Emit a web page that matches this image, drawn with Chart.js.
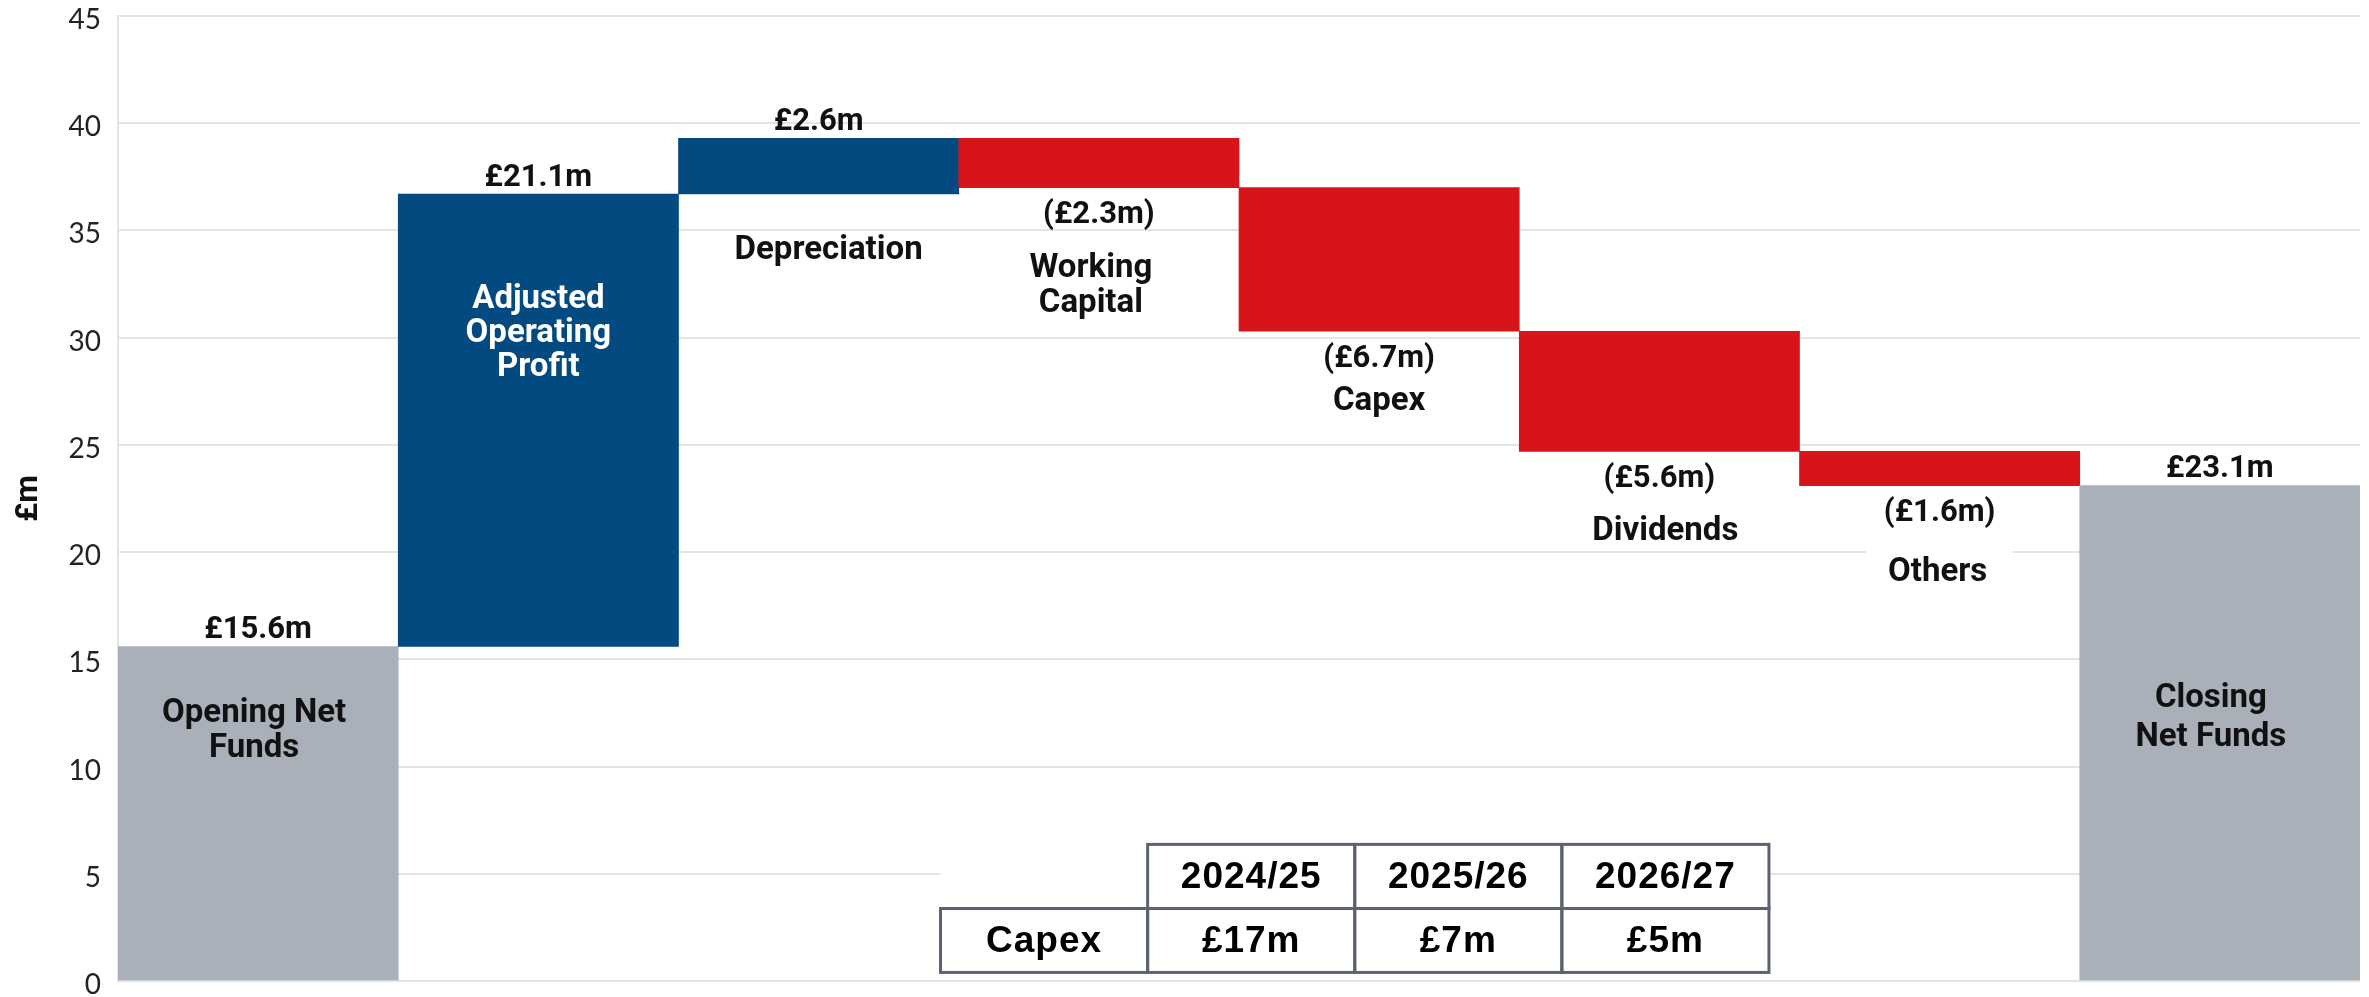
<!DOCTYPE html>
<html>
<head>
<meta charset="utf-8">
<script src="https://cdn.jsdelivr.net/npm/chart.js@4.4.1/dist/chart.umd.min.js"></script>
<style>
  html, body { margin: 0; padding: 0; background: #fff; }
  canvas { display: block; }
</style>
</head>
<body>
<canvas id="chart" width="2369" height="997"></canvas>
<script>
// waterfall data
const categories = [
  ['Opening Net', 'Funds'],
  ['Adjusted', 'Operating', 'Profit'],
  ['Depreciation'],
  ['Working', 'Capital'],
  ['Capex'],
  ['Dividends'],
  ['Others'],
  ['Closing', 'Net Funds']
];
const changes = [15.6, 21.1, 2.6, -2.3, -6.7, -5.6, -1.6, 23.1];
const kinds = ['total', 'up', 'up', 'down', 'down', 'down', 'down', 'total'];
const valueLabels = ['£15.6m', '£21.1m', '£2.6m', '(£2.3m)', '(£6.7m)', '(£5.6m)', '(£1.6m)', '£23.1m'];
const yTicks = [0, 5, 10, 15, 20, 25, 30, 35, 40, 45];

// capex table
const tableYears = ['2024/25', '2025/26', '2026/27'];
const tableRowName = 'Capex';
const tableCapex = ['£17m', '£7m', '£5m'];

const colours = { total: '#AAB0BA', up: '#024A7F', down: '#D7141A' };

// running totals -> floating bars
let running = 0;
const floats = changes.map((v, i) => {
  if (kinds[i] === 'total') { running = v; return [0, v]; }
  const start = running;
  running += v;
  return [start, running];
});

// where the category names go (offset in px from bar top / bottom)
const namePlace = [
  { at: 'top', dy: 67, dx: -4, gap: 35, color: '#111' },
  { at: 'top', dy: 106, dx: 0, gap: 34, color: '#fff' },
  { at: 'bottom', dy: 57, dx: 10, gap: 35, color: '#111' },
  { at: 'bottom', dy: 81, dx: -8, gap: 35, color: '#111' },
  { at: 'bottom', dy: 71, dx: 0, gap: 35, color: '#111' },
  { at: 'bottom', dy: 80, dx: 6, gap: 35, color: '#111' },
  { at: 'bottom', dy: 87, dx: -2, gap: 35, color: '#111', box: true },
  { at: 'top', dy: 213, dx: -9, gap: 39, color: '#111' }
];

const labelFont = 'bold 31px Roboto';
const nameFont = 'bold 33px Roboto';

const waterfallLabels = {
  id: 'waterfallLabels',
  afterDatasetsDraw(chart) {
    const ctx = chart.ctx;
    const meta = chart.getDatasetMeta(0);
    ctx.save();
    ctx.textAlign = 'center';
    ctx.textBaseline = 'middle';
    meta.data.forEach((bar, i) => {
      const top = Math.min(bar.y, bar.base);
      const bottom = Math.max(bar.y, bar.base);
      ctx.font = labelFont;
      ctx.fillStyle = '#111';
      if (kinds[i] === 'down') {
        ctx.fillText(valueLabels[i], bar.x, bottom + 28);
      } else {
        ctx.fillText(valueLabels[i], bar.x, top - 16);
      }
      const p = namePlace[i];
      const y0 = (p.at === 'top' ? top : bottom) + p.dy;
      ctx.font = nameFont;
      categories[i].forEach((line, k) => {
        const y = y0 + k * p.gap;
        if (p.box) {
          ctx.fillStyle = '#fff';
          ctx.fillRect(bar.x - 73, y - 22, 146, 44);
        }
        ctx.fillStyle = p.color;
        ctx.fillText(line, bar.x + p.dx, y);
      });
    });
    ctx.restore();
  }
};

// table placed with the chart's own scales (category index / value units)
const tableLeftIndex = 2.435;
const tableColSpan = 0.739;
const tableRowEdges = [6.37, 3.38, 0.4];

const capexTable = {
  id: 'capexTable',
  afterDraw(chart) {
    const ctx = chart.ctx;
    const xs = chart.scales.x, ys = chart.scales.y;
    const colX = [0, 1, 2, 3, 4].map(k => xs.getPixelForValue(tableLeftIndex + k * tableColSpan));
    const rowY = tableRowEdges.map(v => ys.getPixelForValue(v));
    ctx.save();
    ctx.fillStyle = '#fff';
    ctx.fillRect(colX[0], rowY[0], colX[4] - colX[0], rowY[2] - rowY[0]);
    ctx.strokeStyle = '#5C6370';
    ctx.lineWidth = 3;
    // header row cells
    for (let k = 1; k < 4; k++) {
      ctx.strokeRect(colX[k], rowY[0], colX[k + 1] - colX[k], rowY[1] - rowY[0]);
    }
    // data row cells
    for (let k = 0; k < 4; k++) {
      ctx.strokeRect(colX[k], rowY[1], colX[k + 1] - colX[k], rowY[2] - rowY[1]);
    }
    ctx.fillStyle = '#000';
    ctx.font = 'bold 37px "Liberation Sans", Arial';
    ctx.letterSpacing = '1px';
    ctx.textAlign = 'center';
    ctx.textBaseline = 'middle';
    const midH = (rowY[0] + rowY[1]) / 2 + 1;
    const midR = (rowY[1] + rowY[2]) / 2 + 1;
    tableYears.forEach((t, k) => {
      ctx.fillText(t, (colX[k + 1] + colX[k + 2]) / 2, midH);
    });
    ctx.fillText(tableRowName, (colX[0] + colX[1]) / 2, midR);
    tableCapex.forEach((t, k) => {
      ctx.fillText(t, (colX[k + 1] + colX[k + 2]) / 2, midR);
    });
    ctx.restore();
  }
};

new Chart(document.getElementById('chart'), {
  type: 'bar',
  data: {
    labels: categories.map(c => c.join(' ')),
    datasets: [{
      data: floats,
      backgroundColor: kinds.map(k => colours[k]),
      borderWidth: 0,
      barPercentage: 1,
      categoryPercentage: 1
    }]
  },
  options: {
    responsive: false,
    animation: false,
    layout: { padding: { top: 16, bottom: 16, right: 9, left: 0 } },
    plugins: {
      legend: { display: false },
      tooltip: { enabled: false }
    },
    scales: {
      x: {
        display: false,
        grid: { display: false }
      },
      y: {
        min: 0,
        max: 45,
        afterBuildTicks(scale) {
          scale.ticks = yTicks.map(v => ({ value: v }));
        },
        afterFit(scale) {
          scale.width = 118;
          scale.paddingTop = 0;
          scale.paddingBottom = 0;
        },
        grid: { color: '#E3E4E8', lineWidth: 2, drawTicks: false },
        border: { display: true, color: '#E3E4E8', width: 2 },
        ticks: {
          padding: 17,
          labelOffset: 4,
          color: '#222',
          font: { family: 'Lato', size: 28 }
        },
        title: {
          display: true,
          text: '£m',
          color: '#111',
          padding: 10,
          font: { family: 'Roboto', size: 32, weight: 'bold' }
        }
      }
    }
  },
  plugins: [waterfallLabels, capexTable]
});
</script>
</body>
</html>
